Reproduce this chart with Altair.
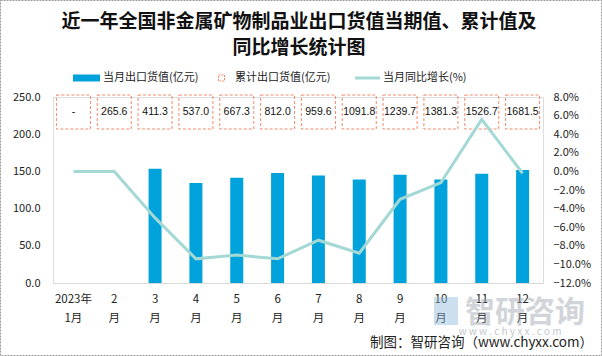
import altair as alt
import pandas as pd

months = ["2023年|1月", "2|月", "3|月", "4|月", "5|月", "6|月",
          "7|月", "8|月", "9|月", "10|月", "11|月", "12|月"]
monthly = [None, None, 153.5, 134.5, 141.5, 148.0, 144.5, 139.0, 145.5, 139.0, 147.0, 152.0]
cumulative = ["-", "265.6", "411.3", "537.0", "667.3", "812.0", "959.6",
              "1091.8", "1239.7", "1381.3", "1526.7", "1681.5"]
yoy = [0.0, 0.0, -5.0, -9.4, -9.0, -9.4, -7.4, -8.8, -3.0, -1.2, 5.6, -0.2]

title_lines = ["近一年全国非金属矿物制品业出口货值当期值、累计值及", "同比增长统计图"]
legend_labels = ["当月出口货值(亿元)", "累计出口货值(亿元)", "当月同比增长(%)"]
source_text = "制图：智研咨询（www.chyxx.com）"

BAR = "#00A2DB"
LINE = "#A3D8D5"
BOX = "#F08A6C"
FONT = "Noto Sans CJK SC"
TXT = "#222222"

df = pd.DataFrame({"m": months, "v": monthly, "c": cumulative, "g": yoy})
one = pd.DataFrame({"k": [0]})

xenc = alt.X("m:N", sort=months, title=None,
             scale=alt.Scale(paddingInner=0, paddingOuter=0),
             axis=alt.Axis(labelExpr="split(datum.label, '|')", labelAngle=0,
                           labelFontSize=11.5, labelFont=FONT, labelColor=TXT,
                           labelLineHeight=19, labelPadding=10, ticks=False,
                           domainColor="#D9D9D9", domainWidth=1.2))

bars = alt.Chart(df).mark_bar(width=13, color=BAR).encode(
    x=xenc,
    y=alt.Y("v:Q", title=None, scale=alt.Scale(domain=[0, 250]),
            axis=alt.Axis(values=[0, 50, 100, 150, 200, 250], format=".1f",
                          grid=False, domain=False, ticks=False, labelPadding=13,
                          labelFontSize=11, labelFont=FONT, labelColor=TXT)),
)

boxes = alt.Chart(df).mark_bar(width=34, fill="white", fillOpacity=0, stroke=BOX,
                               strokeDash=[3, 2], strokeWidth=1).encode(
    x=alt.X("m:N", sort=months),
    y=alt.value(-2), y2=alt.value(32),
)
box_text = alt.Chart(df).mark_text(fontSize=10.5, font="Liberation Sans", color="#111").encode(
    x=alt.X("m:N", sort=months),
    y=alt.value(15),
    text="c:N",
)

left = alt.layer(bars, boxes, box_text)

line = alt.Chart(df).mark_line(color=LINE, strokeWidth=3).encode(
    x=alt.X("m:N", sort=months),
    y=alt.Y("g:Q", title=None, scale=alt.Scale(domain=[-12, 8]),
            axis=alt.Axis(orient="right", values=list(range(-12, 9, 2)),
                          labelExpr="format(datum.value, '.1f') + '%'",
                          grid=False, domain=False, ticks=False, labelPadding=10,
                          labelFontSize=11, labelFont=FONT, labelColor=TXT)),
)

# title
t1 = alt.Chart(one).mark_text(fontSize=19, fontWeight="bold", font=FONT, color="#111").encode(
    x=alt.value(246), y=alt.value(-75), text=alt.value(title_lines[0]))
t2 = alt.Chart(one).mark_text(fontSize=19, fontWeight="bold", font=FONT, color="#111").encode(
    x=alt.value(246), y=alt.value(-49), text=alt.value(title_lines[1]))

# legend
lg_bar = alt.Chart(one).mark_rect(color=BAR).encode(
    x=alt.value(20), x2=alt.value(47), y=alt.value(-22.5), y2=alt.value(-15.5))
lg_box = alt.Chart(one).mark_rect(fill="white", stroke=BOX, strokeDash=[2, 1], strokeWidth=1).encode(
    x=alt.value(165.5), x2=alt.value(171.5), y=alt.value(-22), y2=alt.value(-16))
lg_line = alt.Chart(one).mark_rule(color=LINE, strokeWidth=3).encode(
    x=alt.value(302), x2=alt.value(327), y=alt.value(-19))
lg_t1 = alt.Chart(one).mark_text(fontSize=11, font=FONT, color=TXT, align="left").encode(
    x=alt.value(50), y=alt.value(-19), text=alt.value(legend_labels[0]))
lg_t2 = alt.Chart(one).mark_text(fontSize=11, font=FONT, color=TXT, align="left").encode(
    x=alt.value(182), y=alt.value(-19), text=alt.value(legend_labels[1]))
lg_t3 = alt.Chart(one).mark_text(fontSize=11, font=FONT, color=TXT, align="left").encode(
    x=alt.value(330), y=alt.value(-19), text=alt.value(legend_labels[2]))

# watermark & source
wm1 = alt.Chart(one).mark_text(fontSize=30, fontWeight="bold", font=FONT, color="#9AA3AD",
                               opacity=0.45).encode(
    x=alt.value(472), y=alt.value(216), text=alt.value("智研咨询"))
wm_icon = alt.Chart(one).mark_rect(color="#8FB7D9", opacity=0.45).encode(
    x=alt.value(381), x2=alt.value(405), y=alt.value(200), y2=alt.value(228))
wm2 = alt.Chart(one).mark_text(fontSize=10, font=FONT, color="#9AA3AD", opacity=0.6).encode(
    x=alt.value(457), y=alt.value(235), text=alt.value("w w w . c h y x x . c o m"))
src = alt.Chart(one).mark_text(fontSize=13.5, font=FONT, color=TXT, align="right").encode(
    x=alt.value(540), y=alt.value(246), text=alt.value(source_text))

border = alt.Chart(one).mark_rect(fill="white", fillOpacity=0, stroke="#9A9A9A",
                                  strokeDash=[2, 1], strokeWidth=1).encode(
    x=alt.value(-52.5), x2=alt.value(548.5), y=alt.value(-96.5), y2=alt.value(258.5))

chart = alt.layer(
    left, line, t1, t2, lg_bar, lg_box, lg_line, lg_t1, lg_t2, lg_t3,
    wm_icon, wm1, wm2, src, border
).resolve_scale(y="independent").properties(
    width=490, height=186,
    autosize=alt.AutoSizeParams(type="none"),
    padding={"left": 53, "top": 97, "right": 59, "bottom": 73},
).configure_view(stroke=None).configure(background="white")

chart.save("out.html", embed_options={"renderer": "svg", "actions": False})
